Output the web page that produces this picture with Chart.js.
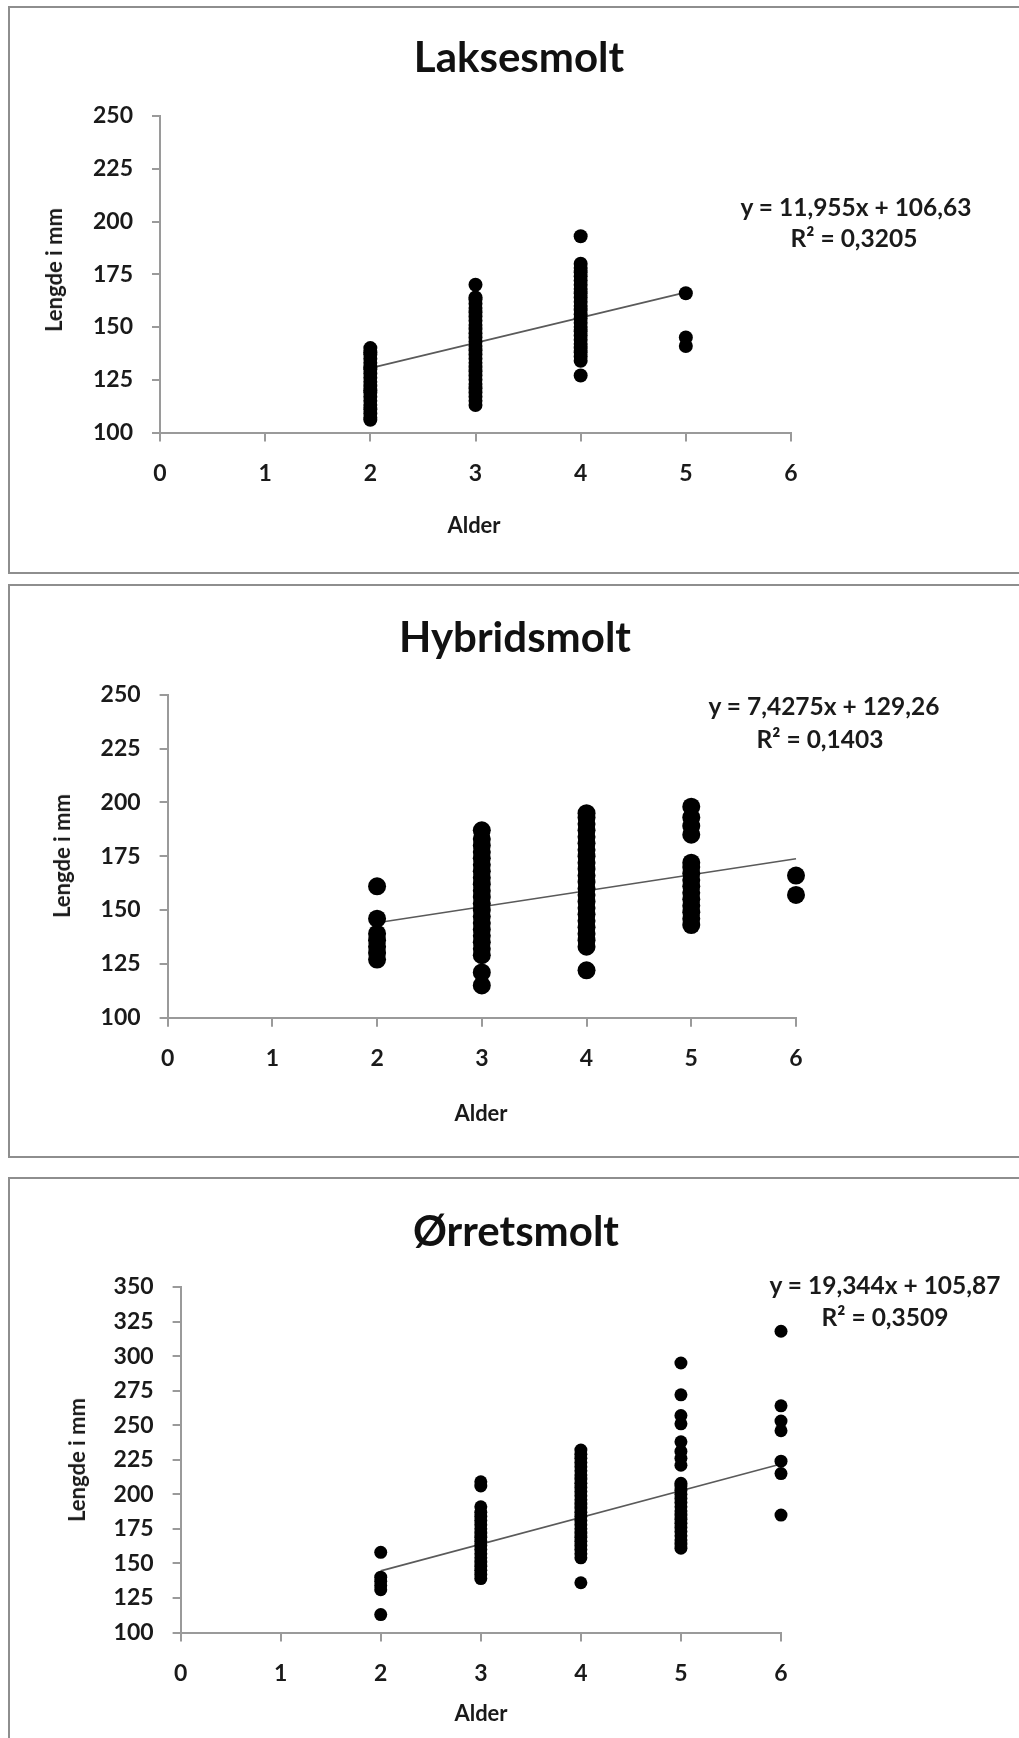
<!DOCTYPE html>
<html>
<head>
<meta charset="utf-8">
<script src="https://cdn.jsdelivr.net/npm/chart.js@4.4.1/dist/chart.umd.min.js"></script>
<style>
  html, body { margin: 0; padding: 0; background: #fff; }
  body { width: 1019px; height: 1738px; position: relative; overflow: hidden;
         font-family: Lato, "Open Sans", sans-serif; color: #1a1a1a; }
  .panel { position: absolute; left: 8px; width: 1040px; border: 2px solid #8e8e8e; box-sizing: border-box; }
  canvas { position: absolute; left: 0; }
  .txt { position: absolute; transform: translate(-50%, -50%); white-space: nowrap; line-height: 1; font-weight: bold; }
  .title { font-size: 42px; color: #111; }
  .eq { font-size: 24.5px; }
  .axt { font-size: 22px; }
  .rot { transform: translate(-50%, -50%) rotate(-90deg); }
</style>
</head>
<body>

<div class="panel" style="top:6px;height:568px"></div>
<div class="panel" style="top:584px;height:574px"></div>
<div class="panel" style="top:1177px;height:600px"></div>

<canvas id="laks" width="1019" height="580" style="top:0"></canvas>
<canvas id="hyb" width="1019" height="580" style="top:580px"></canvas>
<canvas id="orr" width="1019" height="578" style="top:1160px"></canvas>

<div class="txt title" style="left:519px;top:56px">Laksesmolt</div>
<div class="txt eq" style="left:856px;top:207px">y = 11,955x + 106,63</div>
<div class="txt eq" style="left:854px;top:238px">R² = 0,3205</div>
<div class="txt axt" style="left:474px;top:525px">Alder</div>
<div class="txt axt rot" style="left:54px;top:270px">Lengde i mm</div>

<div class="txt title" style="left:515px;top:636px">Hybridsmolt</div>
<div class="txt eq" style="left:824px;top:706px">y = 7,4275x + 129,26</div>
<div class="txt eq" style="left:820px;top:739px">R² = 0,1403</div>
<div class="txt axt" style="left:481px;top:1113px">Alder</div>
<div class="txt axt rot" style="left:62px;top:856px">Lengde i mm</div>

<div class="txt title" style="left:516px;top:1230px">Ørretsmolt</div>
<div class="txt eq" style="left:885px;top:1285px">y = 19,344x + 105,87</div>
<div class="txt eq" style="left:885px;top:1317px">R² = 0,3509</div>
<div class="txt axt" style="left:481px;top:1713px">Alder</div>
<div class="txt axt rot" style="left:77px;top:1460px">Lengde i mm</div>

<script>
// ---- data ----
const xTickValues = [0, 1, 2, 3, 4, 5, 6];
const yTicks250 = [100, 125, 150, 175, 200, 225, 250];
const yTicks350 = [100, 125, 150, 175, 200, 225, 250, 275, 300, 325, 350];

// Laksesmolt
const laksAges = [2, 3, 4, 5];
const laksLengths = [
  [106, 107, 109, 111, 113, 115, 117, 119, 120, 122, 124, 126, 128, 130, 131, 133, 135, 137, 138, 140],
  [113, 115, 117, 119, 121, 123, 125, 127, 129, 131, 133, 135, 137, 139, 141, 143, 145, 147, 149, 151, 153, 155, 157, 159, 161, 163, 164, 170],
  [127, 134, 136, 138, 140, 142, 144, 146, 148, 150, 152, 154, 156, 158, 160, 162, 164, 166, 168, 170, 172, 174, 176, 178, 180, 193],
  [141, 145, 166]
];
const laksTrendX = [2, 5];
const laksTrendY = [130.5, 166.4];

// Hybridsmolt
const hybAges = [2, 3, 4, 5, 6];
const hybLengths = [
  [127, 130, 133, 136, 139, 146, 161],
  [115, 121, 129, 132, 135, 138, 141, 144, 147, 150, 153, 156, 159, 162, 165, 168, 171, 174, 177, 180, 183, 187],
  [122, 133, 136, 139, 142, 145, 148, 151, 154, 157, 160, 163, 166, 169, 172, 175, 178, 181, 184, 187, 190, 193, 195],
  [143, 146, 149, 152, 155, 158, 161, 164, 167, 170, 172, 185, 189, 193, 198],
  [157, 166]
];
const hybTrendX = [2, 6];
const hybTrendY = [144.1, 173.8];

// Ørretsmolt
const orrAges = [2, 3, 4, 5, 6];
const orrLengths = [
  [113, 131, 134, 137, 140, 158],
  [139, 142, 145, 148, 151, 154, 157, 160, 163, 166, 169, 172, 175, 178, 181, 184, 187, 191, 206, 209],
  [136, 154, 157, 160, 163, 166, 169, 172, 175, 178, 181, 184, 187, 190, 193, 196, 199, 202, 205, 208, 211, 214, 217, 220, 223, 226, 229, 232],
  [161, 164, 167, 170, 173, 176, 179, 182, 185, 188, 191, 194, 197, 200, 203, 206, 208, 221, 226, 231, 238, 251, 257, 272, 295],
  [185, 215, 224, 246, 253, 264, 318]
];
const orrTrendX = [2, 6];
const orrTrendY = [144.6, 221.9];

// ---- charts ----
const axisGray = "#9a9a9a";
const tickFont = { family: "Lato", size: 23, weight: "bold" };

function toPoints(ages, lengths) {
  const pts = [];
  ages.forEach((a, i) => lengths[i].forEach(v => pts.push({ x: a, y: v })));
  return pts;
}

function makeChart(id, ages, lengths, tx, ty, yTicks, radius, pad) {
  const trend = tx.map((x, i) => ({ x, y: ty[i] }));
  new Chart(document.getElementById(id), {
    type: "scatter",
    data: {
      datasets: [{
        data: toPoints(ages, lengths),
        pointRadius: radius,
        pointBackgroundColor: "#000",
        pointBorderWidth: 0,
        pointHoverRadius: radius,
        clip: false
      }, {
        type: "line",
        data: trend,
        borderColor: "#5a5a5a",
        borderWidth: 1.6,
        pointRadius: 0,
        fill: false,
        clip: false
      }]
    },
    options: {
      responsive: false,
      animation: false,
      events: [],
      layout: { padding: pad },
      plugins: { legend: { display: false }, tooltip: { enabled: false } },
      scales: {
        x: {
          type: "linear",
          min: 0, max: 6,
          afterBuildTicks: s => { s.ticks = xTickValues.map(v => ({ value: v })); },
          afterFit: s => { s.height = 60; },
          grid: { drawOnChartArea: false, drawTicks: true, tickLength: 9, color: axisGray, lineWidth: 2 },
          border: { display: true, color: axisGray, width: 2 },
          ticks: { font: tickFont, color: "#1a1a1a", padding: 18, maxRotation: 0, callback: v => String(v) }
        },
        y: {
          type: "linear",
          min: yTicks[0], max: yTicks[yTicks.length - 1],
          afterBuildTicks: s => { s.ticks = yTicks.map(v => ({ value: v })); },
          afterFit: s => { s.width = 80; },
          grid: { drawOnChartArea: false, drawTicks: true, tickLength: 8, color: axisGray, lineWidth: 2 },
          border: { display: true, color: axisGray, width: 2 },
          ticks: { font: tickFont, color: "#1a1a1a", padding: 19, callback: v => String(v) }
        }
      }
    }
  });
}

makeChart("laks", laksAges, laksLengths, laksTrendX, laksTrendY, yTicks250, 7,
  { left: 80, right: 228, top: 116, bottom: 87.5 });
makeChart("hyb", hybAges, hybLengths, hybTrendX, hybTrendY, yTicks250, 9,
  { left: 87.6, right: 223, top: 114.7, bottom: 82.3 });
makeChart("orr", orrAges, orrLengths, orrTrendX, orrTrendY, yTicks350, 6.5,
  { left: 100.6, right: 238, top: 127, bottom: 45.5 });
</script>
</body>
</html>
